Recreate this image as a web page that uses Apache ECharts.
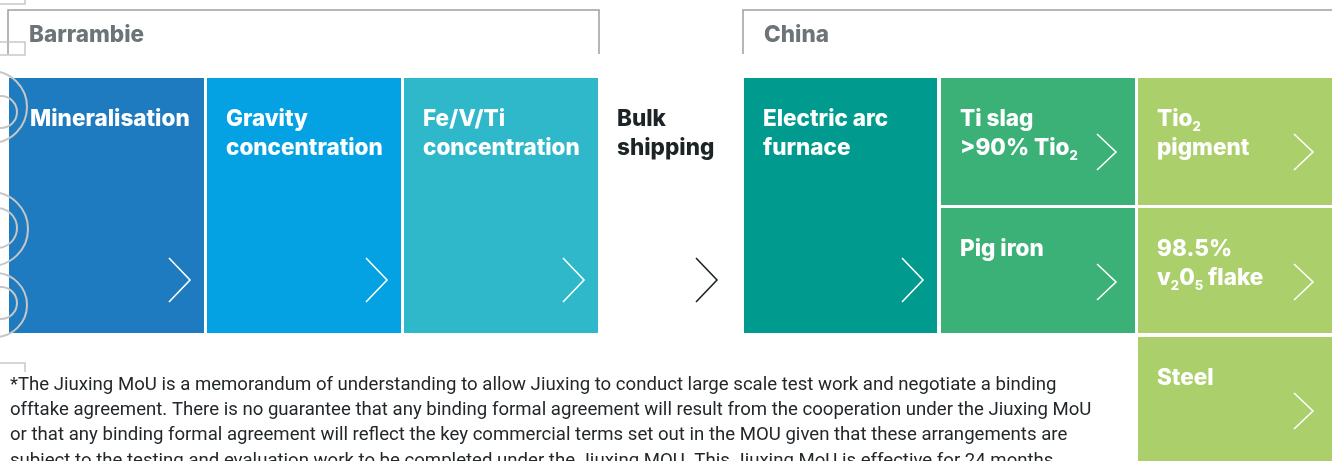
<!DOCTYPE html>
<html>
<head>
<meta charset="utf-8">
<script src="https://cdn.jsdelivr.net/npm/echarts@6/dist/echarts.min.js"></script>
<style>
html, body { margin: 0; padding: 0; background: #fff; }
#main { width: 1332px; height: 461px; }
</style>
</head>
<body>
<div id="main"></div>
<script>
// regions shown as brackets above the flow
var regions = ['Barrambie', 'China'];
var regionCols = [[0, 2], [4, 6]];

// process steps ({s|..} = subscript)
var stepNames = [
	'Mineralisation',
	'Gravity\nconcentration',
	'Fe/V/Ti\nconcentration',
	'Bulk\nshipping',
	'Electric arc\nfurnace',
	'Ti slag\n>90% Tio{s|2}',
	'Pig iron',
	'Tio{s|2}\npigment',
	'98.5%\nv{s|2}0{s|5} flake',
	'Steel'
];
var stepCol = [0, 1, 2, 3, 4, 5, 5, 6, 6, 6];
var stepRow = [0, 0, 0, 0, 0, 0, 1, 0, 1, 2];
var stepRowSpan = [2, 2, 2, 2, 2, 1, 1, 1, 1, 1];

var footnote = [
	'*The Jiuxing MoU is a memorandum of understanding to allow Jiuxing to conduct large scale test work and negotiate a binding',
	'offtake agreement. There is no guarantee that any binding formal agreement will result from the cooperation under the Jiuxing MoU',
	'or that any binding formal agreement will reflect the key commercial terms set out in the MOU given that these arrangements are',
	'subject to the testing and evaluation work to be completed under the Jiuxing MOU. This Jiuxing MoU is effective for 24 months'
];

// layout of the columns / rows (pixels on the hidden axes)
var colLeft = [9, 207, 404, 598, 744, 941, 1138];
var colRight = [204, 401, 598, 731, 937, 1135, 1332];
var rowTop = [78, 208, 337];
var rowBottom = [205, 333, 461];
var colFill = ['#1f7bbf', '#04a2e3', '#2eb8c9', null, '#009b8e', '#3bb178', '#abcf6b'];
var headFont = 'Inter';

function stepItem(params, api) {
	var i = params.dataIndex;
	var c = stepCol[i], r = stepRow[i], span = stepRowSpan[i];
	var tl = api.coord([colLeft[c], rowTop[r]]);
	var br = api.coord([colRight[c], rowBottom[r + span - 1]]);
	var fill = colFill[c];
	var ink = fill ? '#ffffff' : '#1d2426';
	var big = span > 1;
	var x1 = br[0] - (big ? 35 : 38), x2 = br[0] - (big ? 14 : 19);
	var cy = big ? br[1] - 53 : tl[1] + 74;
	var hh = big ? 22 : 18;
	var children = [];
	if (fill) {
		children.push({
			type: 'rect',
			shape: {x: tl[0], y: tl[1], width: br[0] - tl[0], height: br[1] - tl[1]},
			style: {fill: fill}
		});
	}
	children.push({
		type: 'text',
		style: {
			text: stepNames[i],
			x: tl[0] + (c === 0 ? 21 : 19),
			y: tl[1] + 27,
			fill: ink,
			fontSize: 22.5,
			fontWeight: 800,
			fontFamily: headFont,
			lineHeight: 29,
			align: 'left', textAlign: 'left',
			verticalAlign: 'top', textVerticalAlign: 'top',
			rich: {
				s: {fontSize: 13, fontWeight: 800, fontFamily: headFont, fill: ink, lineHeight: 2, verticalAlign: 'bottom'}
			}
		}
	});
	children.push({
		type: 'polyline',
		shape: {points: [[x1, cy - hh], [x2, cy], [x1, cy + hh]]},
		style: {stroke: ink, lineWidth: 1.6, fill: null}
	});
	return {type: 'group', children: children};
}

function regionItem(params, api) {
	var i = params.dataIndex;
	var a = api.coord([colLeft[regionCols[i][0]] - 1, 10]);
	var b = api.coord([colRight[regionCols[i][1]] + 1, 54]);
	return {
		type: 'group',
		children: [{
			type: 'polyline',
			shape: {points: [[a[0], b[1]], [a[0], a[1]], [b[0], a[1]], [b[0], b[1]]]},
			style: {stroke: '#9e9e9e', lineWidth: 1.5, fill: null}
		}, {
			type: 'text',
			style: {
				text: regions[i], x: a[0] + 21, y: 35,
				fill: '#6c7477', fontSize: 22.5, fontWeight: 800, fontFamily: headFont,
				align: 'left', textAlign: 'left', verticalAlign: 'middle', textVerticalAlign: 'middle'
			}
		}]
	};
}

var myChart = echarts.init(document.getElementById('main'));

var graphics = [];
footnote.forEach(function(line, k) {
	graphics.push({
		type: 'text', x: 10, y: 385 + k * 25.4, z: 10,
		style: {text: line, fill: '#22272a', fontSize: 18.6, fontFamily: 'Roboto', textVerticalAlign: 'middle', verticalAlign: 'middle'}
	});
});
// faint decorative outlines on the left edge
var deco = {stroke: '#c6c6c6', lineWidth: 2, fill: null};
[[-9, 107, 36], [1, 112, 16], [-9, 229, 37], [-3, 228, 20], [-5, 305, 32], [1, 303, 16]].forEach(function(c) {
	graphics.push({type: 'circle', z: 50, shape: {cx: c[0], cy: c[1], r: c[2]}, style: deco});
});
graphics.push({type: 'polyline', z: 50, shape: {points: [[0, 4], [25, 4], [25, 0]]}, style: {stroke: '#c8c8c8', lineWidth: 1.5, fill: null}});
graphics.push({type: 'rect', z: 50, shape: {x: -2, y: 42, width: 27, height: 13}, style: {stroke: '#c8c8c8', lineWidth: 1.5, fill: null}});
graphics.push({type: 'polyline', z: 50, shape: {points: [[0, 363], [25, 363], [25, 372]]}, style: {stroke: '#c8c8c8', lineWidth: 1.5, fill: null}});

var option = {
	animation: false,
	grid: {left: 0, right: 0, top: 0, bottom: 0},
	xAxis: {type: 'value', min: 0, max: 1332, show: false},
	yAxis: {type: 'value', min: 0, max: 461, inverse: true, show: false},
	graphic: graphics,
	series: [{
		type: 'custom',
		renderItem: regionItem,
		data: regions.map(function(n, i) { return [i, 0]; })
	}, {
		type: 'custom',
		renderItem: stepItem,
		data: stepNames.map(function(n, i) { return [i, 0]; })
	}]
};
myChart.setOption(option);
</script>
</body>
</html>
